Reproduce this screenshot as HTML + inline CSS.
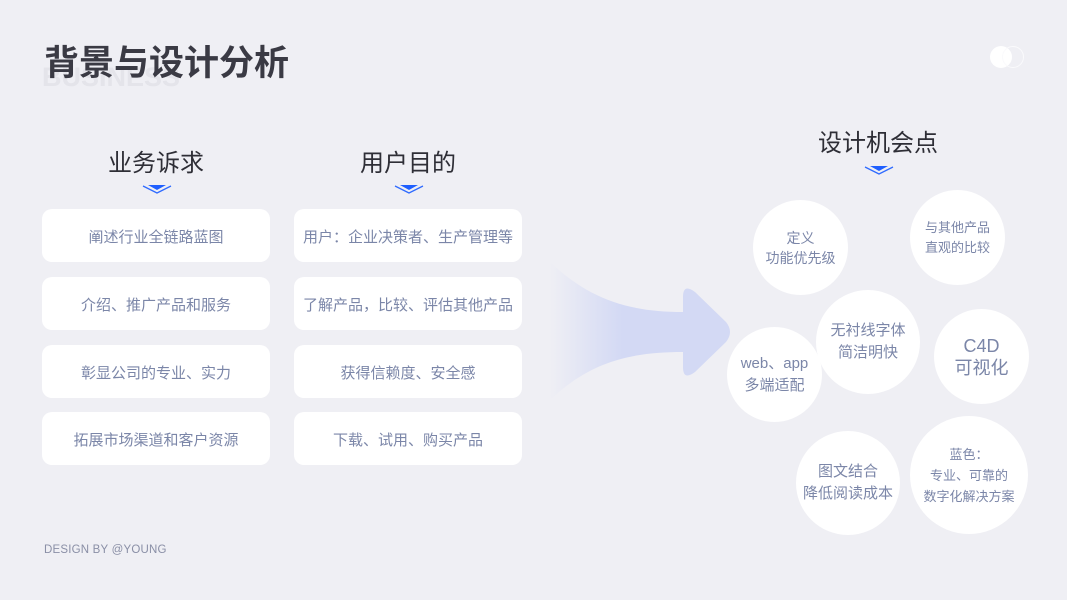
<!DOCTYPE html>
<html><head><meta charset="utf-8"><style>
body{margin:0;width:1067px;height:600px;background:#efeff4;position:relative;overflow:hidden;font-family:"Liberation Sans","Noto Sans CJK SC",sans-serif}
.abs{position:absolute}
.wm{left:42px;top:62px;font-size:27px;font-weight:bold;color:#e4e4ea;letter-spacing:0px}
.title{left:44px;top:35px;font-size:35px;font-weight:bold;color:#3a3a44;letter-spacing:0px}
.h{font-size:24px;color:#2e2e36;width:200px;text-align:center;line-height:30px}
.card{background:#fff;border-radius:10px;width:228px;height:53px;line-height:57px;text-align:center;font-size:15px;color:#7b86a8}
.c{background:#fff;border-radius:50%;display:flex;align-items:center;justify-content:center;text-align:center;color:#7b86a8;font-size:14px;line-height:20px}
.foot{left:44px;top:544px;font-size:11.5px;color:#8a8fa6;letter-spacing:.2px}
</style></head><body>
<div class="abs wm">BUSINESS</div>
<div class="abs title">背景与设计分析</div>
<div class="abs" style="left:990px;top:46px;width:22px;height:22px;border-radius:50%;background:#fff"></div>
<div class="abs" style="left:1002px;top:46px;width:20px;height:20px;border-radius:50%;border:1px solid #fafafc"></div>

<div class="abs h" style="left:56px;top:149px">业务诉求</div>
<div class="abs h" style="left:308px;top:149px">用户目的</div>
<div class="abs h" style="left:778px;top:129px">设计机会点</div>
<svg class="abs" style="left:0;top:0" width="1067" height="600">
<defs><linearGradient id="g" x1="0" x2="1"><stop offset="0" stop-color="#d3d9f4" stop-opacity="0"/><stop offset="0.4" stop-color="#d3d9f4"/><stop offset="1" stop-color="#d3d9f4"/></linearGradient></defs>
<g fill="none" stroke="#2f6bff" stroke-width="1.3"><path d="M143 186 L157 193 L171 186"/><path d="M395 186 L409 193 L423 186"/><path d="M865 167 L879 174 L893 167"/></g>
<g fill="#1f5fff"><path d="M148 185 L166 185 L157 190Z"/><path d="M400 185 L418 185 L409 190Z"/><path d="M870 166 L888 166 L879 171Z"/></g>
<path d="M550 262 C590 300 630 312 683 312 L683 297 Q683 283 695 292 L726 322 Q734 332 726 342 L695 372 Q683 381 683 367 L683 352 C630 352 590 362 550 400 Z" fill="url(#g)"/>
</svg>

<div class="abs card" style="left:42px;top:209px">阐述行业全链路蓝图</div>
<div class="abs card" style="left:42px;top:277px">介绍、推广产品和服务</div>
<div class="abs card" style="left:42px;top:345px">彰显公司的专业、实力</div>
<div class="abs card" style="left:42px;top:412px">拓展市场渠道和客户资源</div>
<div class="abs card" style="left:294px;top:209px">用户：企业决策者、生产管理等</div>
<div class="abs card" style="left:294px;top:277px">了解产品，比较、评估其他产品</div>
<div class="abs card" style="left:294px;top:345px">获得信赖度、安全感</div>
<div class="abs card" style="left:294px;top:412px">下载、试用、购买产品</div>

<div class="abs c" style="left:753px;top:200px;width:95px;height:95px">定义<br>功能优先级</div>
<div class="abs c" style="left:910px;top:190px;width:95px;height:95px;font-size:13px">与其他产品<br>直观的比较</div>
<div class="abs c" style="left:816px;top:290px;width:104px;height:104px;font-size:15px;line-height:22px">无衬线字体<br>简洁明快</div>
<div class="abs c" style="left:934px;top:309px;width:95px;height:95px;font-size:18px;line-height:22px">C4D<br>可视化</div>
<div class="abs c" style="left:727px;top:327px;width:95px;height:95px;font-size:15px;line-height:22px">web、app<br>多端适配</div>
<div class="abs c" style="left:796px;top:431px;width:104px;height:104px;font-size:15px;line-height:22px">图文结合<br>降低阅读成本</div>
<div class="abs c" style="left:910px;top:416px;width:118px;height:118px;font-size:13px;line-height:21px">蓝色：<br>专业、可靠的<br>数字化解决方案</div>

<div class="abs foot">DESIGN BY @YOUNG</div>
</body></html>
